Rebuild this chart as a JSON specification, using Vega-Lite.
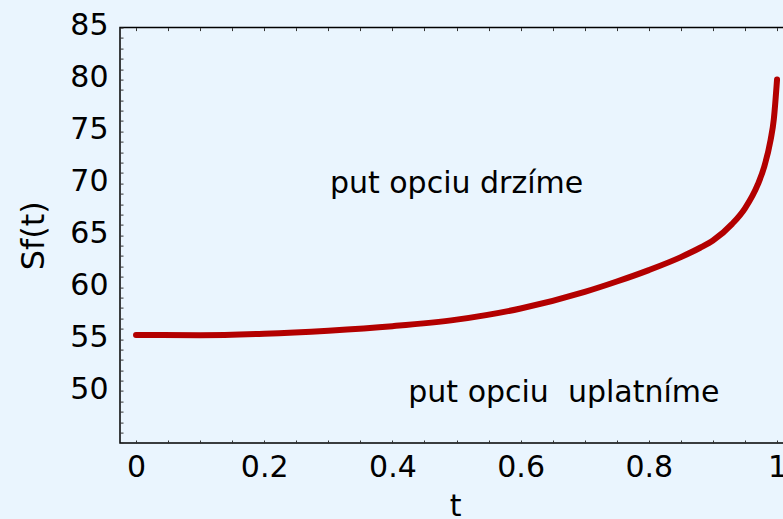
{
  "$schema": "https://vega.github.io/schema/vega-lite/v6.json",
  "width": 670,
  "height": 415.4,
  "autosize": "none",
  "padding": {"left": 120, "top": 27.6, "right": 0, "bottom": 76},
  "background": "#eaf5fe",
  "config": {
    "view": {"stroke": "black", "strokeWidth": 1.5, "fill": "#eaf5fe"},
    "font": "DejaVu Sans",
    "axis": {
      "grid": false,
      "domain": false,
      "labelFont": "DejaVu Sans",
      "labelFontSize": 30,
      "labelColor": "black",
      "titleFont": "DejaVu Sans",
      "titleFontSize": 30,
      "titleFontWeight": "normal",
      "titleColor": "black",
      "tickColor": "#333333",
      "tickWidth": 1,
      "tickSize": -3,
      "labelOverlap": false,
      "labelBound": false,
      "labelFlush": false
    }
  },
  "layer": [
    {
      "data": {
        "values": [
          {"t": 0, "S": 55.4},
          {"t": 0.1, "S": 55.38},
          {"t": 0.2, "S": 55.52},
          {"t": 0.3, "S": 55.82},
          {"t": 0.4, "S": 56.25},
          {"t": 0.5, "S": 56.88},
          {"t": 0.6, "S": 57.95},
          {"t": 0.7, "S": 59.55},
          {"t": 0.75, "S": 60.55},
          {"t": 0.8, "S": 61.65},
          {"t": 0.85, "S": 62.9},
          {"t": 0.88, "S": 63.8},
          {"t": 0.9, "S": 64.5},
          {"t": 0.93, "S": 66.1},
          {"t": 0.95, "S": 67.6},
          {"t": 0.97, "S": 69.9},
          {"t": 0.98, "S": 71.6},
          {"t": 0.99, "S": 74.2},
          {"t": 0.995, "S": 76.2},
          {"t": 1.0, "S": 80.0}
        ]
      },
      "mark": {"type": "line", "color": "#b30000", "strokeWidth": 6, "strokeCap": "round", "interpolate": "monotone", "clip": false},
      "encoding": {
        "x": {
          "field": "t", "type": "quantitative",
          "scale": {"domain": [-0.025, 1.0202], "nice": false, "zero": false},
          "axis": {
            "orient": "bottom",
            "title": "t",
            "values": [0,0.05,0.1,0.15,0.2,0.25,0.3,0.35,0.4,0.45,0.5,0.55,0.6,0.65,0.7,0.75,0.8,0.85,0.9,0.95,1],
            "labelExpr": "abs(datum.value*5-round(datum.value*5))<0.001 ? format(datum.value,'~g') : ''",
            "encoding": {"ticks": {"update": {"y2": {"signal": "abs(datum.value*5-round(datum.value*5))<0.001 ? -5 : -3"}}}},
            "labelPadding": 12,
            "titlePadding": 9
          }
        },
        "y": {
          "field": "S", "type": "quantitative",
          "scale": {"domain": [45, 85], "nice": false, "zero": false},
          "axis": {
            "orient": "left",
            "title": "Sf(t)",
            "titleFontSize": 32,
            "values": [45,46,47,48,49,50,51,52,53,54,55,56,57,58,59,60,61,62,63,64,65,66,67,68,69,70,71,72,73,74,75,76,77,78,79,80,81,82,83,84,85],
            "labelExpr": "datum.value % 5 == 0 && datum.value > 45 ? format(datum.value,'d') : ''",
            "encoding": {"ticks": {"update": {"x2": {"signal": "datum.value % 5 == 0 ? 5 : 3"}}}},
            "labelPadding": 15,
            "labelOffset": -2,
            "titlePadding": 19
          }
        }
      }
    },
    {
      "data": {
        "values": [
          {"t": 0.5, "S": 69.1, "label": "put opciu drzíme"},
          {"t": 0.6675, "S": 48.9, "label": "put opciu \u00a0uplatníme"}
        ]
      },
      "mark": {"type": "text", "font": "DejaVu Sans", "fontSize": 30, "align": "center", "baseline": "alphabetic", "color": "black"},
      "encoding": {
        "x": {
          "field": "t", "type": "quantitative",
          "axis": {
            "orient": "top",
            "title": null,
            "labels": false,
            "values": [0,0.05,0.1,0.15,0.2,0.25,0.3,0.35,0.4,0.45,0.5,0.55,0.6,0.65,0.7,0.75,0.8,0.85,0.9,0.95,1],
            "encoding": {"ticks": {"update": {"y2": {"signal": "abs(datum.value*5-round(datum.value*5))<0.001 ? 5 : 3"}}}}
          }
        },
        "y": {"field": "S", "type": "quantitative", "axis": null},
        "text": {"field": "label"}
      }
    }
  ],
  "resolve": {"axis": {"x": "independent", "y": "independent"}}
}
